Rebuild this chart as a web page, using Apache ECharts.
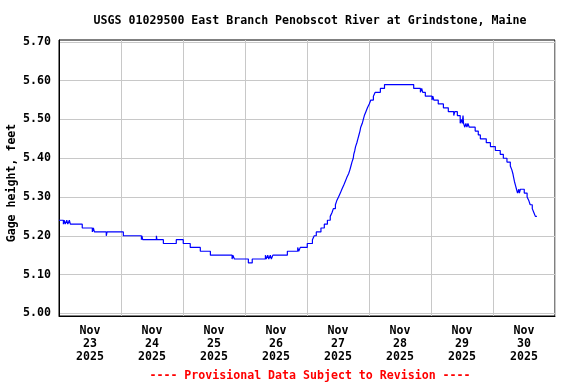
<!DOCTYPE html>
<html>
<head>
<meta charset="utf-8">
<script src="https://cdn.jsdelivr.net/npm/echarts@6/dist/echarts.min.js"></script>
<style>html,body{margin:0;padding:0;background:#fff}#c{width:576px;height:384px}</style>
</head>
<body>
<div id="c"></div>
<script>
// Hours since 2025-11-23 00:00 at which the gage reading changed, and the new reading (ft)
var hours = [0,1.7,2.0,2.4,3.0,3.4,4.0,4.4,5.1,9.0,12.9,13.3,13.7,18.3,18.6,24.9,31.9,32.1,32.4,37.7,37.9,40.4,45.4,48.1,50.8,54.7,58.6,67.0,67.3,67.9,73.3,74.8,79.9,80.2,80.8,81.2,81.8,82.2,82.8,88.4,92.4,92.8,93.4,96.1,98.1,98.8,99.6,101.4,102.7,103.9,105.0,105.7,106.2,107.0,107.5,108.2,108.9,109.5,110.2,110.8,111.4,112.1,112.6,113.0,113.4,113.9,114.1,114.5,114.8,115.3,115.7,116.1,116.5,116.8,117.4,117.8,118.2,118.8,119.4,120.1,120.7,121.7,122.4,124.4,126.0,137.3,139.9,140.4,140.8,141.8,144.4,144.7,145.1,146.8,148.8,150.7,152.8,153.2,154.2,155.3,155.7,156.1,156.4,156.6,157.1,157.5,157.9,158.3,158.8,161.1,162.3,163.1,165.4,167.0,168.9,170.8,172.0,173.4,174.7,175.3,175.7,176.0,176.3,176.7,177.1,177.5,178.0,178.2,178.6,180.1,181.2,181.9,182.4,183.2,183.8,184.4,185.0];
var gage = [5.24,5.23,5.24,5.23,5.24,5.23,5.24,5.23,5.23,5.22,5.21,5.22,5.21,5.20,5.21,5.20,5.19,5.20,5.19,5.20,5.19,5.18,5.19,5.18,5.17,5.16,5.15,5.14,5.15,5.14,5.13,5.14,5.15,5.14,5.15,5.14,5.15,5.14,5.15,5.16,5.17,5.16,5.17,5.18,5.19,5.20,5.21,5.22,5.23,5.24,5.25,5.26,5.27,5.28,5.29,5.30,5.31,5.32,5.33,5.34,5.35,5.36,5.37,5.38,5.39,5.40,5.41,5.42,5.43,5.44,5.45,5.46,5.47,5.48,5.49,5.50,5.51,5.52,5.53,5.54,5.55,5.56,5.57,5.58,5.59,5.58,5.57,5.58,5.57,5.56,5.55,5.56,5.55,5.54,5.53,5.52,5.51,5.52,5.51,5.49,5.50,5.49,5.51,5.49,5.48,5.49,5.48,5.49,5.48,5.47,5.46,5.45,5.44,5.43,5.42,5.41,5.40,5.39,5.38,5.37,5.36,5.35,5.34,5.33,5.32,5.31,5.32,5.31,5.32,5.31,5.30,5.29,5.28,5.27,5.26,5.25,5.25];
var dayTicks = [0,24,48,72,96,120,144,168,192];
var dayLabelPos = [12,36,60,84,108,132,156,180];
var dayLabels = ['Nov\n23\n2025','Nov\n24\n2025','Nov\n25\n2025','Nov\n26\n2025','Nov\n27\n2025','Nov\n28\n2025','Nov\n29\n2025','Nov\n30\n2025'];
var yTicks = [5.0,5.1,5.2,5.3,5.4,5.5,5.6,5.7];
var titleText = 'USGS 01029500 East Branch Penobscot River at Grindstone, Maine';
var noteText = '---- Provisional Data Subject to Revision ----';
var yName = 'Gage height, feet';

var FONT = '"DejaVu Sans Mono", monospace';
var data = hours.map(function (h, i) { return [h, gage[i]]; });
var chart = echarts.init(document.getElementById('c'), null, {renderer: 'canvas'});
chart.setOption({
  animation: false,
  backgroundColor: '#ffffff',
  title: [
    {text: titleText, left: 305, top: 10, textAlign: 'center',
     textStyle: {fontFamily: FONT, fontWeight: 'bold', fontSize: 11.6, color: '#000'}},
    {text: noteText, left: 305, top: 365, textAlign: 'center',
     textStyle: {fontFamily: FONT, fontWeight: 'bold', fontSize: 11.6, color: '#ff0000'}}
  ],
  grid: {left: 59, right: 21, top: 40, bottom: 68, show: true, borderColor: '#000', borderWidth: 1, containLabel: false},
  xAxis: {
    type: 'value', min: 0, max: 192,
    axisLine: {show: true, lineStyle: {color: '#000', width: 1}},
    axisTick: {show: false, customValues: dayTicks},
    splitLine: {show: true, lineStyle: {color: '#c8c8c8', width: 1}},
    axisLabel: {
      customValues: dayLabelPos, margin: 8, color: '#000',
      fontFamily: FONT, fontWeight: 'bold', fontSize: 11.6, lineHeight: 13,
      formatter: function (v) { return dayLabels[dayLabelPos.indexOf(Math.round(v))] || ''; }
    }
  },
  yAxis: {
    type: 'value', min: 4.993, max: 5.705,
    axisLine: {show: true, lineStyle: {color: '#000', width: 1}},
    axisTick: {show: false, customValues: yTicks},
    splitLine: {show: true, lineStyle: {color: '#c8c8c8', width: 1}},
    axisLabel: {
      customValues: yTicks, margin: 8, color: '#000',
      fontFamily: FONT, fontWeight: 'bold', fontSize: 11.6,
      formatter: function (v) { return v.toFixed(2); }
    }
  },
  graphic: [{
    type: 'text', x: 12, y: 183, rotation: Math.PI / 2,
    style: {text: yName, fontFamily: FONT, fontWeight: 'bold', fontSize: 11.6, fill: '#000',
            align: 'center', verticalAlign: 'middle'}
  }],
  series: [{
    type: 'line', step: 'end', data: data, showSymbol: false, symbol: 'none',
    lineStyle: {color: '#0000ff', width: 1.2}, silent: true
  }]
});
</script>
</body>
</html>
